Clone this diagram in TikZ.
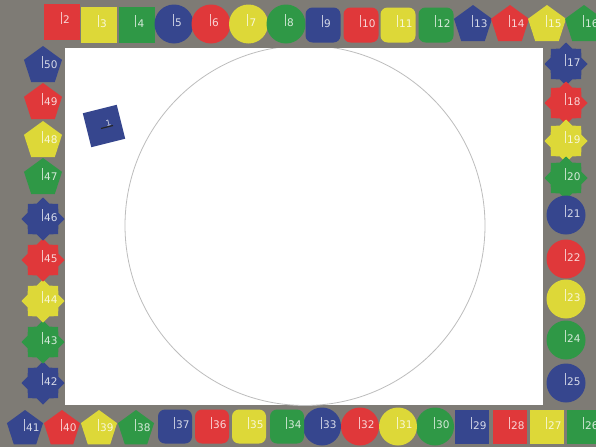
\documentclass[tikz,border=0pt]{standalone}
\usepackage{fontspec}
\setmainfont{DejaVu Sans}
\usetikzlibrary{shapes.geometric}
\definecolor{bg}{HTML}{7E7B75}
\definecolor{cR}{HTML}{E0383A}
\definecolor{cY}{HTML}{DDD838}
\definecolor{cG}{HTML}{2F9846}
\definecolor{cB}{HTML}{36468E}
\definecolor{ring}{HTML}{BDBDBD}
\tikzset{
  piece/.style={inner sep=0pt, outer sep=0pt, draw=none},
  sq/.style={rectangle, minimum size=36pt},
  sqb/.style={rectangle, minimum size=34pt},
  rsq/.style={rectangle, rounded corners=7pt, minimum size=35pt},
  rsqb/.style={rectangle, rounded corners=7pt, minimum size=34pt},
  circ/.style={circle, minimum size=39pt},
  circb/.style={circle, minimum size=38pt},
  pent/.style={regular polygon, regular polygon sides=5, minimum size=40pt},
  pentb/.style={regular polygon, regular polygon sides=5, minimum size=38pt},
  starp/.style={star, star points=8, star point ratio=1.3, minimum size=43pt},
  barl/.style={draw=white, draw opacity=.7, line width=1pt},
  numtxt/.style={text=white, text opacity=.8, inner sep=0pt, font=\fontsize{10.5}{11}\selectfont},
}
\newcommand\mkpiece[5]{%
  \node[piece,#3,fill=#4] (p#5) at (#1,#2) {};
  \draw[barl] ([xshift=-1pt,yshift=-2pt]p#5.center) -- ++(0,-12);
  \node[numtxt, anchor=base west] (n#5) at ([xshift=1pt,yshift=-2pt]p#5.center) {#5};
}
\begin{document}
\begin{tikzpicture}[x=1pt,y=-1pt]
\useasboundingbox (0,0) rectangle (596,447);
\fill[bg] (0,0) rectangle (596,447);
\fill[white] (65,48) rectangle (543,405);
\begin{scope}
  \clip (65,48) rectangle (543,405);
  \node[circle, draw=ring, line width=0.8pt, minimum size=360pt, inner sep=0pt] (ring) at (305,225.5) {};
\end{scope}
% top row
\mkpiece{62}{21.5}{sq}{cR}{2}
\mkpiece{99}{25}{sq}{cY}{3}
\mkpiece{136.5}{25}{sq}{cG}{4}
\mkpiece{174}{24}{circ}{cB}{5}
\mkpiece{211}{24}{circ}{cR}{6}
\mkpiece{248.5}{24}{circ}{cY}{7}
\mkpiece{286}{24}{circ}{cG}{8}
\mkpiece{323}{25}{rsq}{cB}{9}
\mkpiece{361}{25}{rsq}{cR}{10}
\mkpiece{398}{25}{rsq}{cY}{11}
\mkpiece{436}{25}{rsq}{cG}{12}
\mkpiece{473}{25}{pent}{cB}{13}
\mkpiece{510}{25}{pent}{cR}{14}
\mkpiece{547}{25}{pent}{cY}{15}
\mkpiece{584}{25}{pent}{cG}{16}
% right column
\mkpiece{566}{64}{starp}{cB}{17}
\mkpiece{566}{103}{starp}{cR}{18}
\mkpiece{566}{141}{starp}{cY}{19}
\mkpiece{566}{178}{starp}{cG}{20}
\mkpiece{566}{215}{circ}{cB}{21}
\mkpiece{566}{259}{circ}{cR}{22}
\mkpiece{566}{299}{circ}{cY}{23}
\mkpiece{566}{340}{circ}{cG}{24}
\mkpiece{566}{383}{circ}{cB}{25}
% bottom row
\mkpiece{584}{427}{sqb}{cG}{26}
\mkpiece{547}{427}{sqb}{cY}{27}
\mkpiece{510}{427}{sqb}{cR}{28}
\mkpiece{472}{427}{sqb}{cB}{29}
\mkpiece{435}{426.5}{circb}{cG}{30}
\mkpiece{398}{426.5}{circb}{cY}{31}
\mkpiece{360}{426.5}{circb}{cR}{32}
\mkpiece{322}{426.5}{circb}{cB}{33}
\mkpiece{287}{426.5}{rsqb}{cG}{34}
\mkpiece{249}{426.5}{rsqb}{cY}{35}
\mkpiece{212}{426.5}{rsqb}{cR}{36}
\mkpiece{175}{426.5}{rsqb}{cB}{37}
\mkpiece{136}{429}{pentb}{cG}{38}
\mkpiece{99}{429}{pentb}{cY}{39}
\mkpiece{62}{429}{pentb}{cR}{40}
\mkpiece{25}{429}{pentb}{cB}{41}
% left column
\mkpiece{43}{383}{starp}{cB}{42}
\mkpiece{43}{342}{starp}{cG}{43}
\mkpiece{43}{301}{starp}{cY}{44}
\mkpiece{43}{260}{starp}{cR}{45}
\mkpiece{43}{219}{starp}{cB}{46}
\mkpiece{43}{178}{pent}{cG}{47}
\mkpiece{43}{141}{pent}{cY}{48}
\mkpiece{43}{103}{pent}{cR}{49}
\mkpiece{43}{66}{pent}{cB}{50}
% piece 1
\node[piece, rectangle, minimum size=35pt, fill=cB, rotate=14] (p1) at (104,126) {};
\draw[black!85, line width=1.2pt] ([shift={(-3,2.5)}]p1.center) -- ([shift={(9,-0.5)}]p1.center);
\node[numtxt, font=\fontsize{8}{8}\selectfont, rotate=14] (n1) at ([shift={(4.5,-3)}]p1.center) {1};
\end{tikzpicture}
\end{document}
